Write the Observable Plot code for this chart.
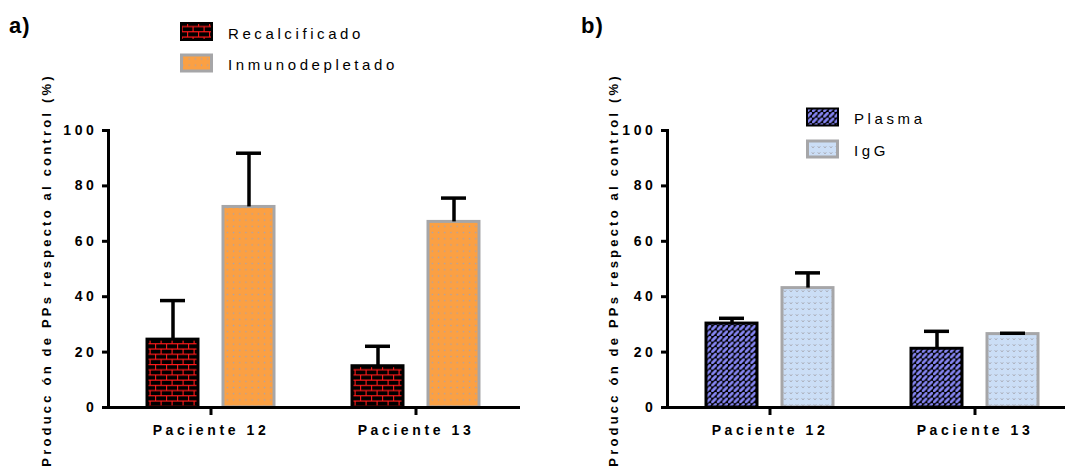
<!DOCTYPE html>
<html>
<head>
<meta charset="utf-8">
<script src="https://cdn.jsdelivr.net/npm/d3@7"></script>
<script src="https://cdn.jsdelivr.net/npm/@observablehq/plot@0.6"></script>
<style>
  body { margin: 0; background: #fff; }
  #wrap { position: relative; width: 1065px; height: 466px; overflow: hidden; background: #fff; }
  .panel { position: absolute; top: 0; }
  .panel text { letter-spacing: 3.6px; }
  #overlay { position: absolute; left: 0; top: 0; pointer-events: none; }
  #overlay text { font-family: "Liberation Sans", Arial, sans-serif; }
  .ytitle { font-size: 13px; font-weight: bold; letter-spacing: 3.2px; }
  .tag { font-size: 22px; font-weight: bold; letter-spacing: 1px; }
  .leg { font-size: 15px; letter-spacing: 3.6px; }
</style>
</head>
<body>
<div id="wrap">
  <svg id="overlay" width="1065" height="466">
    <defs>
      <!-- red mortar on black bricks -->
      <pattern id="brick" width="11" height="10.4" patternUnits="userSpaceOnUse">
        <rect width="11" height="10.4" fill="#000"/>
        <path d="M0 0.6H11M0 5.8H11M0.6 0.6V5.8M6.1 5.8V10.4" stroke="#ff1a1a" stroke-width="1.1" fill="none"/>
      </pattern>
      <!-- grey dots on orange -->
      <pattern id="dots" width="6.2" height="6.2" patternUnits="userSpaceOnUse">
        <rect width="6.2" height="6.2" fill="#fba043"/>
        <rect x="2.5" y="2.5" width="1.3" height="1.3" fill="#a7a3b0"/>
      </pattern>
      <!-- diagonal blue weave on black -->
      <pattern id="weave" width="5.6" height="5.6" patternUnits="userSpaceOnUse">
        <rect width="5.6" height="5.6" fill="#000"/>
        <path d="M1.2 4.4L4.4 1.2" stroke="#8585f2" stroke-width="2.7" stroke-linecap="round"/>
      </pattern>
      <!-- small grey v marks on pale blue -->
      <pattern id="hearts" width="6" height="6" patternUnits="userSpaceOnUse">
        <rect width="6" height="6" fill="#cbdef6"/>
        <path d="M1.8 2.4L3 3.8L4.2 2.4" stroke="#a3a3ab" stroke-width="1" fill="none"/>
      </pattern>
    </defs>
  </svg>
</div>
<script>
// Categories and measured values (mean and upper SD, % of control)
const patients = ["Paciente 12", "Paciente 13"];

const seriesA = ["Recalcificado", "Inmunodepletado"];
const recalcificado = [24.5, 14.9];
const recalcificadoSD = [14.1, 7.2];
const inmunodepletado = [72.4, 67.0];
const inmunodepletadoSD = [19.4, 8.6];

const seriesB = ["Plasma", "IgG"];
const plasma = [30.3, 21.2];
const plasmaSD = [1.9, 6.3];
const igg = [43.1, 26.5];
const iggSD = [5.5, 0.3];

const yTicks = [0, 20, 40, 60, 80, 100];
const yTitle = "Producc ón de PPs respecto al control (%)";

const looksA = [
  {fill: "url(#brick)", stroke: "#000"},
  {fill: "url(#dots)", stroke: "#a6a6a8"}
];
const looksB = [
  {fill: "url(#weave)", stroke: "#000"},
  {fill: "url(#hearts)", stroke: "#a6a6a8"}
];

function rows(series, values, sds) {
  return patients.flatMap((p, i) =>
    series.map((s, j) => ({patient: p, series: s, value: values[j][i], sd: sds[j][i]})));
}

function panel(series, values, sds, looks, left) {
  const data = rows(series, values, sds);
  const bars = series.map((s, j) => Plot.barY(data, {
    filter: d => d.series === s,
    fx: "patient", x: "series", y: "value",
    fill: looks[j].fill, stroke: looks[j].stroke, strokeWidth: 3
  }));
  const chart = Plot.plot({
    width: 530, height: 466,
    marginLeft: 107, marginRight: 12, marginTop: 130, marginBottom: 59,
    style: {fontFamily: "'Liberation Sans', Arial, sans-serif", fontSize: "14px", fontWeight: "bold", color: "#000", background: "transparent", overflow: "visible"},
    fx: {domain: patients, padding: 0, label: null},
    x: {domain: series, axis: null, paddingInner: 0.325, paddingOuter: 0.497},
    y: {domain: [0, 100], axis: null},
    marks: [
      ...bars,
      Plot.ruleX(data, {fx: "patient", x: "series", y1: "value", y2: d => d.value + d.sd, stroke: "#000", strokeWidth: 3.5}),
      Plot.tickY(data, {fx: "patient", x: "series", y: d => d.value + d.sd, stroke: "#000", strokeWidth: 3.5, insetLeft: 13, insetRight: 13}),
      Plot.frame({anchor: "bottom", strokeWidth: 3}),
      Plot.frame({anchor: "left", facetAnchor: "left", strokeWidth: 3}),
      Plot.axisY({ticks: yTicks, tickSize: 6, tickPadding: 5, strokeWidth: 3, label: null}),
      Plot.axisFx({anchor: "bottom", tickSize: 8, tickPadding: 10, strokeWidth: 3, label: null})
    ]
  });
  chart.classList.add("panel");
  chart.style.left = left + "px";
  return chart;
}

const wrap = document.getElementById("wrap");
const overlay = document.getElementById("overlay");
wrap.insertBefore(panel(seriesA, [recalcificado, inmunodepletado], [recalcificadoSD, inmunodepletadoSD], looksA, 0), overlay);
wrap.insertBefore(panel(seriesB, [plasma, igg], [plasmaSD, iggSD], looksB, 559), overlay);

// Panel tags, rotated y titles and legends
const ov = d3.select(overlay);
ov.append("text").attr("class", "tag").attr("x", 9).attr("y", 33).text("a)");
ov.append("text").attr("class", "tag").attr("x", 581).attr("y", 33).text("b)");

for (const bx of [51, 618]) {
  ov.append("text").attr("class", "ytitle")
    .attr("transform", `translate(${bx},270) rotate(-90)`)
    .attr("text-anchor", "middle").text(yTitle);
}

function legend(series, looks, x, y0, gap, strokes) {
  series.forEach((s, j) => {
    const y = y0 + j * gap;
    ov.append("rect").attr("x", x + strokes[j] / 2).attr("y", y + strokes[j] / 2)
      .attr("width", 33 - strokes[j]).attr("height", 19 - strokes[j])
      .attr("fill", looks[j].fill).attr("stroke", looks[j].stroke).attr("stroke-width", strokes[j]);
    ov.append("text").attr("class", "leg").attr("x", x + 48).attr("y", y + 16.5).text(s);
  });
}
legend(seriesA, looksA, 180, 22, 31.5, [2, 3]);
legend(seriesB, looksB, 806, 107.5, 32, [2, 3]);
</script>
</body>
</html>
